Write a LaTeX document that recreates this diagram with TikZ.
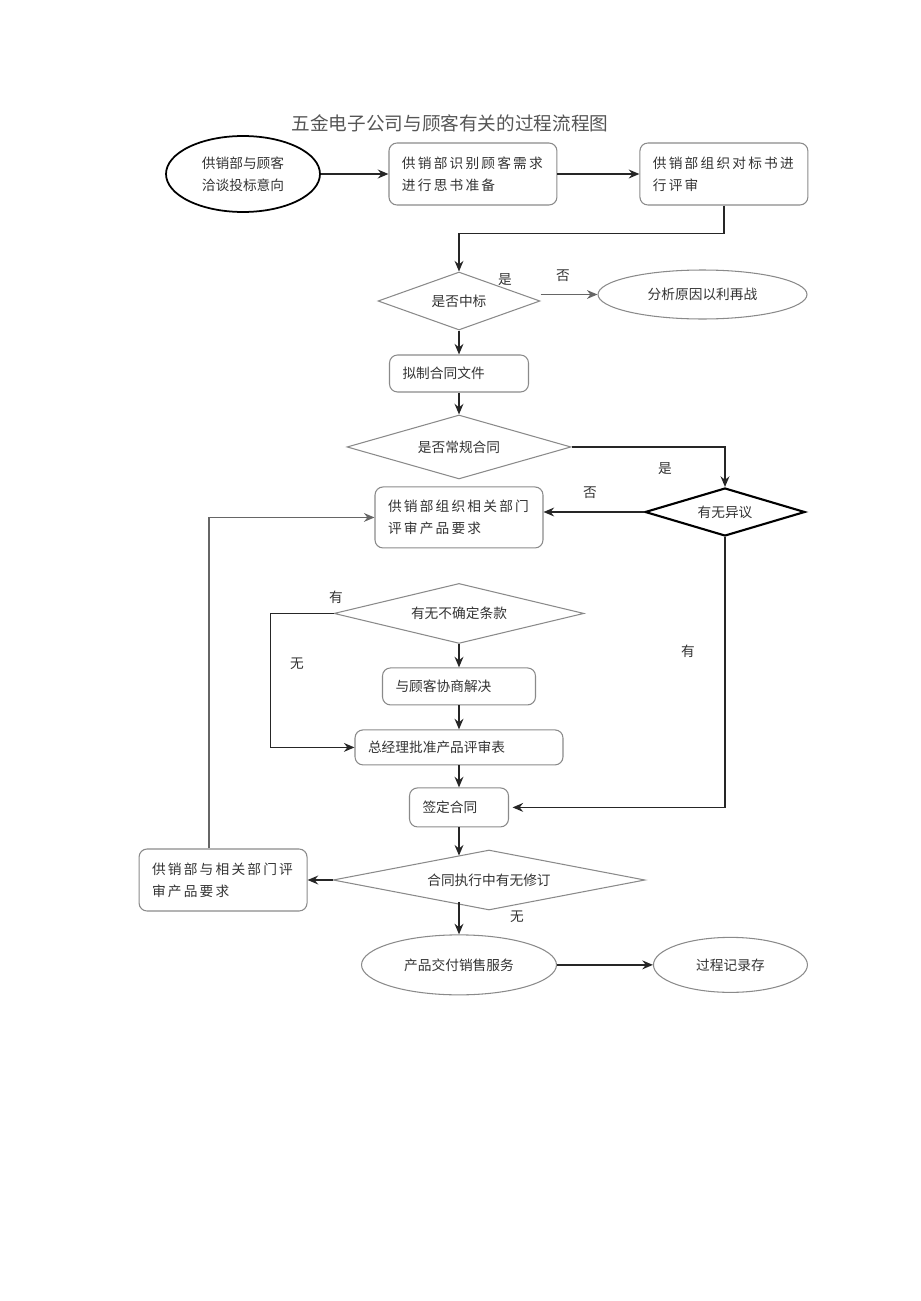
\documentclass[tikz,border=0pt]{standalone}
\usepackage{fontspec}
\setmainfont{Noto Sans CJK SC}
\newfontfamily\spacedcjk[LetterSpace=16]{Noto Sans CJK SC}
\usetikzlibrary{shapes.geometric,arrows.meta,calc,positioning}
\definecolor{linegray}{HTML}{8A8A8A}
\definecolor{textgray}{HTML}{333333}
\definecolor{titlegray}{HTML}{555555}

\begin{document}
\begin{tikzpicture}[x=0.02cm, y=-0.02cm,
    font=\fontsize{7.8pt}{12.5pt}\selectfont, text=textgray,
    box/.style={draw=linegray, line width=0.6pt, rounded corners=0.16cm, align=left, inner xsep=0.26cm, inner ysep=0pt},
    spaced/.style={font=\spacedcjk\fontsize{7.8pt}{12.5pt}\selectfont},
    oval/.style={draw=linegray, line width=0.6pt, ellipse, inner sep=0pt, align=center},
    choice/.style={draw=linegray, line width=0.6pt, diamond, aspect=3, inner sep=0pt},
    flow/.style={draw=black!85, line width=1pt, -{Stealth[length=6pt,width=5pt]}},
    thinflow/.style={flow, draw=black!60, line width=0.8pt},
    lbl/.style={inner sep=1pt}]
                \useasboundingbox (0,0) rectangle (920,1301);

                \node[font=\fontsize{10.6pt}{12pt}\selectfont, text=titlegray] (title) at (450,123) {五金电子公司与顾客有关的过程流程图};

                \node[oval, draw=black, line width=1pt, minimum width=3.08cm, minimum height=1.52cm] (start) at (243,174) {供销部与顾客\\洽谈投标意向};
                \node[box, spaced, text width=2.84cm, minimum height=1.24cm, node distance=4.6cm, right of=start] (identify) {供销部识别顾客需求\\进行思书准备};
                \node[box, spaced, text width=2.84cm, minimum height=1.24cm, node distance=5.02cm, right of=identify] (evalbox) {供销部组织对标书进\\行评审};

                \node[choice, minimum width=3.24cm, minimum height=1.16cm] (win) at (459,301) {是否中标};
                \node[oval, minimum width=4.18cm, minimum height=0.98cm] (analyse) at (702.5,294.5) {分析原因以利再战};
                \node[box, text width=2.26cm, minimum height=0.74cm, node distance=1.45cm, below of=win] (draft) {拟制合同文件};
                \node[choice, minimum width=4.48cm, minimum height=1.28cm, node distance=1.47cm, below of=draft] (routine) {是否常规合同};
                \node[choice, draw=black, line width=1.2pt, minimum width=3.2cm, minimum height=0.96cm] (objection) at (725,512) {有无异议};
                \node[box, spaced, text width=2.84cm, minimum height=1.22cm, node distance=1.41cm, below of=routine] (review) {供销部组织相关部门\\评审产品要求};
                \node[choice, minimum width=5cm, minimum height=1.2cm, node distance=1.92cm, below of=review] (unsure) {有无不确定条款};
                \node[box, text width=2.54cm, minimum height=0.74cm, node distance=1.46cm, below of=unsure] (negot) {与顾客协商解决};
                \node[box, text width=3.64cm, minimum height=0.7cm, node distance=1.22cm, below of=negot] (approve) {总经理批准产品评审表};
                \node[box, text width=1.46cm, minimum height=0.78cm, node distance=1.2cm, below of=approve] (sign) {签定合同};
                \node[choice, minimum width=6.24cm, minimum height=1.2cm] (modify) at (489,880) {合同执行中有无修订};
                \node[box, spaced, text width=2.84cm, minimum height=1.24cm, node distance=5.32cm, left of=modify] (leftbox) {供销部与相关部门评\\审产品要求};
                \node[oval, minimum width=3.9cm, minimum height=1.2cm, node distance=3.15cm, below of=sign] (deliver) {产品交付销售服务};
                \node[oval, minimum width=3.08cm, minimum height=1.1cm, node distance=5.43cm, right of=deliver] (record) {过程记录存};

                \node[lbl] (winyes) at (505,280) {是};
                \node[lbl] (winno) at (563,276) {否};
                \node[lbl] (routineyes) at (665,469) {是};
                \node[lbl] (objno) at (590,493) {否};
                \node[lbl] (unsureyes) at (336,597) {有};
                \node[lbl] (unsureno) at (297,664) {无};
                \node[lbl] (objyes) at (688,651) {有};
                \node[lbl] (modifyno) at (517,917) {无};

                \coordinate (modifyedge) at ($(modify.west)!0.8!(modify.north)$);

                \draw[flow, line width=1.3pt] (start) -- (identify);
                \draw[flow, line width=1.3pt] (identify) -- (evalbox);
                \draw[flow] (evalbox.south) -- ++(0,-0.56cm) -| (win.north);
                \draw[thinflow] (win.east |- analyse.west) -- (analyse.west);
                \draw[flow] (win.south) -- (draft.north);
                \draw[flow] (draft.south) -- (routine.north);
                \draw[flow] (routine.east) -| (objection.north);
                \draw[flow] (objection.west) -- (objection.west -| review.east);
                \draw[flow, shorten >=2pt] (objection.south) |- (sign.east);
                \draw[flow] (unsure.west) -- ++(-1.26cm,0) |- (approve.west);
                \draw[flow] (unsure.south) -- (negot.north);
                \draw[flow] (negot.south) -- (approve.north);
                \draw[flow] (approve.south) -- (sign.north);
                \draw[flow] (sign.south) -- (sign.south |- modifyedge);
                \draw[flow] ([yshift=-0.44cm]modify.center -| deliver.north) -- (deliver.north);
                \draw[flow] (modify.west) -- (leftbox.east);
                \draw[thinflow] ([xshift=-0.28cm]leftbox.north) |- (review.west);
                \draw[flow, line width=1.3pt] (deliver) -- (record);
            \end{tikzpicture}
\end{document}
